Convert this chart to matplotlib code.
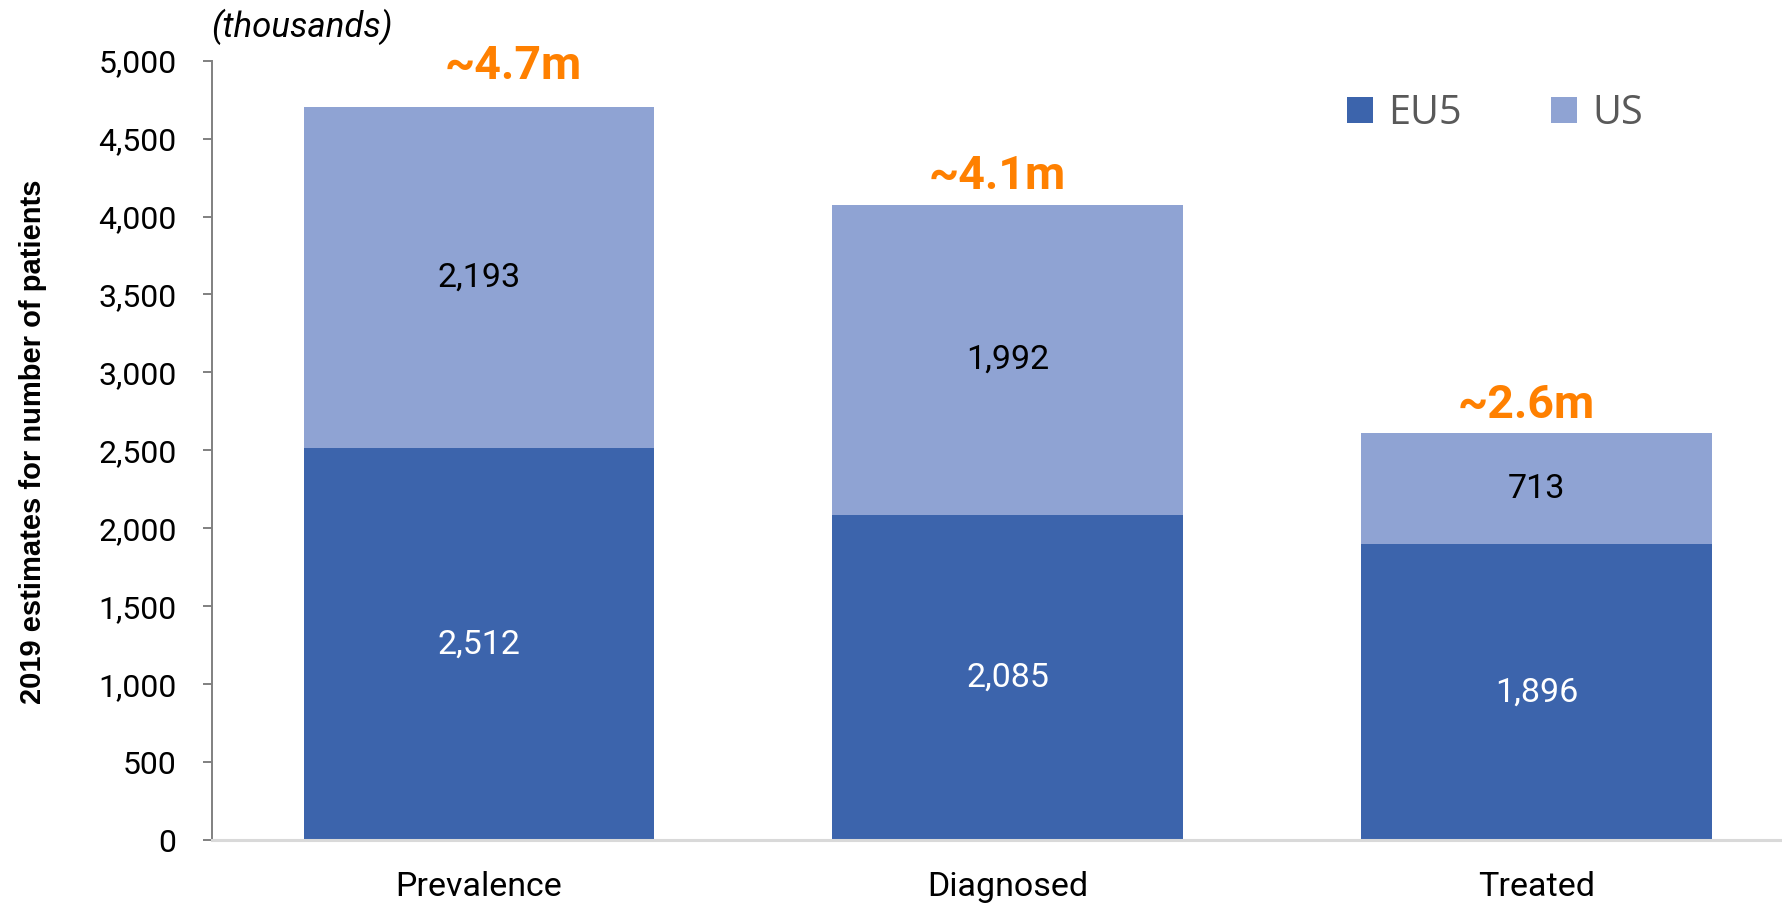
import matplotlib
matplotlib.use("Agg")
import matplotlib.pyplot as plt
from matplotlib.patches import Patch
from matplotlib.ticker import FuncFormatter
import numpy as np

categories = ["Prevalence", "Diagnosed", "Treated"]
eu5 = [2512, 2085, 1896]
us = [2193, 1992, 713]
totals_text = ["~4.7m", "~4.1m", "~2.6m"]
series_names = ["EU5", "US"]
yticks = [0, 500, 1000, 1500, 2000, 2500, 3000, 3500, 4000, 4500, 5000]

c_eu5 = "#3C64AC"
c_us = "#8FA3D3"
c_orange = "#FF8000"

W, H = 1783, 905
fig = plt.figure(figsize=(W / 100, H / 100), dpi=100)
ax = fig.add_axes([212 / W, 1 - 840 / H, 1 - 212 / W, (840 - 60.7) / H])

x = np.arange(len(categories))
bw = 0.662
ax.bar(x, eu5, bw, color=c_eu5, label=series_names[0], zorder=2)
ax.bar(x, us, bw, bottom=eu5, color=c_us, label=series_names[1], zorder=2)

ax.set_xlim(-0.504, 2.466)
ax.set_ylim(0, 5000)
ax.set_yticks(yticks)
ax.yaxis.set_major_formatter(FuncFormatter(lambda v, p: f"{int(v):,}"))
ax.set_xticks(x)
ax.set_xticklabels(categories, fontsize=24.5, family="Roboto", color="black")

for lab in ax.get_yticklabels():
    lab.set_fontsize(23)
    lab.set_family("Roboto")

ax.tick_params(axis="y", length=9 * 0.72, width=1.4, color="#808080", pad=19)
ax.tick_params(axis="x", length=0, pad=22)

for s in ["top", "right"]:
    ax.spines[s].set_visible(False)
ax.spines["left"].set_color("#808080")
ax.spines["left"].set_linewidth(1.4)
ax.spines["bottom"].set_color("#D9D9D9")
ax.spines["bottom"].set_linewidth(2.2)

# segment labels
for i in range(len(categories)):
    ax.text(x[i], eu5[i] / 2, f"{eu5[i]:,}", ha="center", va="center",
            color="white", fontsize=24.5, family="Roboto", zorder=3)
    ax.text(x[i], eu5[i] + us[i] / 2, f"{us[i]:,}", ha="center", va="center",
            color="black", fontsize=24.5, family="Roboto", zorder=3)

# total labels
offsets = [(34.5, 28), (-10, 16), (-10, 15)]
for i in range(len(categories)):
    ax.annotate(totals_text[i], xy=(x[i], eu5[i] + us[i]), xytext=offsets[i],
                textcoords="offset pixels", ha="center", va="baseline",
                color=c_orange, fontsize=33.5, fontweight="bold", family="Roboto")

# y label and units
fig.text(33 / W, 1 - 442 / H, "2019 estimates for number of patients", rotation=90,
         ha="center", va="center", fontsize=21, fontweight="bold",
         family="Liberation Sans", color="black")
fig.text(211 / W, 1 - 27 / H, "(thousands)", ha="left", va="center",
         fontsize=25, style="italic", family="Roboto", color="black")

handles = [Patch(facecolor=c_eu5, edgecolor="none"), Patch(facecolor=c_us, edgecolor="none")]
leg = fig.legend(handles, series_names, loc="center left",
                 bbox_to_anchor=(1347 / W, 1 - 113.5 / H), ncol=2, frameon=False,
                 prop={"family": "Open Sans", "size": 28.5},
                 handlelength=0.66, handleheight=0.66, handletextpad=0.38,
                 columnspacing=2.25, borderpad=0, borderaxespad=0)
for t in leg.get_texts():
    t.set_color("#595959")

fig.savefig("out.png", dpi=100)
